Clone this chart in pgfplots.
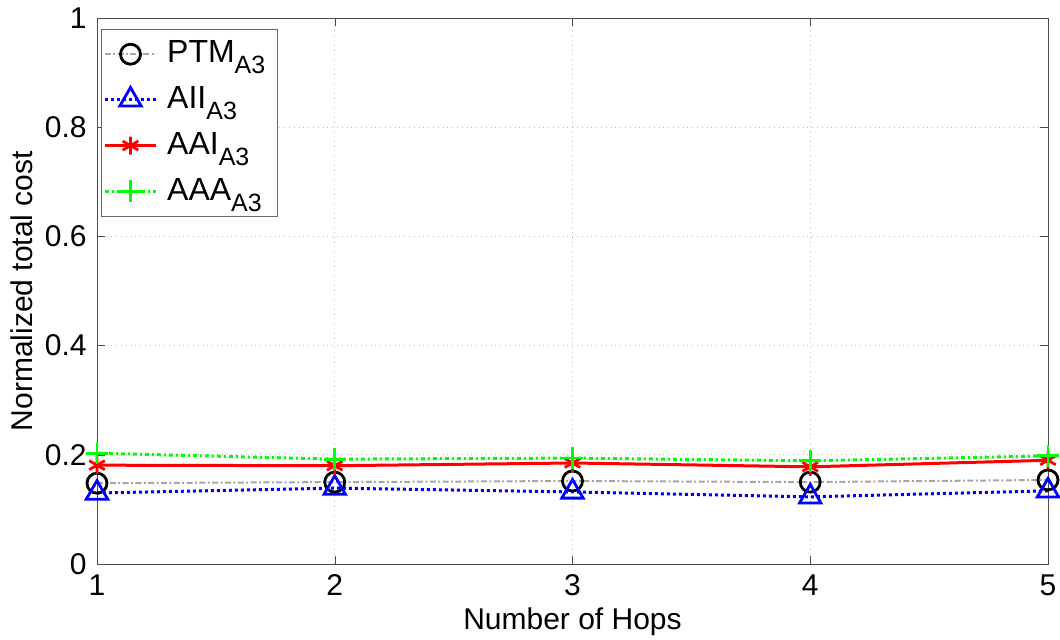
\documentclass[border=0pt]{standalone}
\usepackage{pgfplots}
\pgfplotsset{compat=1.18}
\usepackage{fontspec}
\setmainfont{Liberation Sans}
\definecolor{mgreen}{rgb}{0,1,0}
\newcommand\sub[1]{\raisebox{-5.5pt}{\fontsize{12.5}{12}\selectfont #1}}
\begin{document}
\fontsize{15}{18}\selectfont
\begin{tikzpicture}
\begin{axis}[
  scale only axis, width=475.5pt, height=273pt,
  xmin=1, xmax=5, ymin=0, ymax=1,
  xtick={1,2,3,4,5}, ytick={0,0.2,0.4,0.6,0.8,1},
  /pgf/number format/assume math mode=true,
  ticklabel style={font=\fontsize{15}{18}\selectfont},
  label style={font=\fontsize{15}{18}\selectfont},
  xlabel={Number of Hops}, ylabel={Normalized total cost},
  xlabel style={yshift=4pt}, ylabel style={yshift=-4pt},
  tick align=inside, major tick length=4pt,
  axis line style={draw=black!70}, tick style={black!70},
  grid=major, grid style={dotted, gray!50},
  clip=false,
  legend cell align=left,
  legend style={at={(0.0042,0.98)}, anchor=north west, draw=black!60,
    font=\fontsize{16}{18}\selectfont, inner sep=1pt,
    nodes={inner sep=4.8pt}},
  legend image code/.code={\draw[mark repeat=2,mark phase=2] plot coordinates {(0cm,0cm) (0.45cm,0cm) (0.9cm,0cm)};},
]
\addplot[gray!70, line width=1pt, dash pattern=on 3pt off 1.2pt on 1pt off 1.2pt,
  mark=o, mark size=5pt, mark options={solid, draw=black, line width=1.4pt}]
  coordinates {(1,0.148) (2,0.150) (3,0.152) (4,0.150) (5,0.154)};
\addlegendentry{PTM\sub{A3}}
\addplot[blue, line width=1.5pt, dash pattern=on 1.5pt off 1.5pt,
  mark=triangle, mark size=6.2pt, mark options={solid, line width=1.4pt}]
  coordinates {(1,0.130) (2,0.139) (3,0.132) (4,0.123) (5,0.134)};
\addlegendentry{AII\sub{A3}}
\addplot[red, line width=1.5pt,
  mark=asterisk, mark size=4.5pt, mark options={solid, line width=1.4pt}]
  coordinates {(1,0.181) (2,0.180) (3,0.185) (4,0.178) (5,0.190)};
\addlegendentry{AAI\sub{A3}}
\addplot[mgreen, line width=1.5pt, dash pattern=on 2pt off 1.5pt on 1pt off 1.5pt,
  mark=+, mark size=5.5pt, mark options={solid, line width=1.4pt}]
  coordinates {(1,0.203) (2,0.192) (3,0.194) (4,0.189) (5,0.198)};
\addlegendentry{AAA\sub{A3}}
\end{axis}
\pgfresetboundingbox
\useasboundingbox (-48.5pt,-37.5pt) rectangle (481.5pt,282pt);
\end{tikzpicture}
\end{document}
